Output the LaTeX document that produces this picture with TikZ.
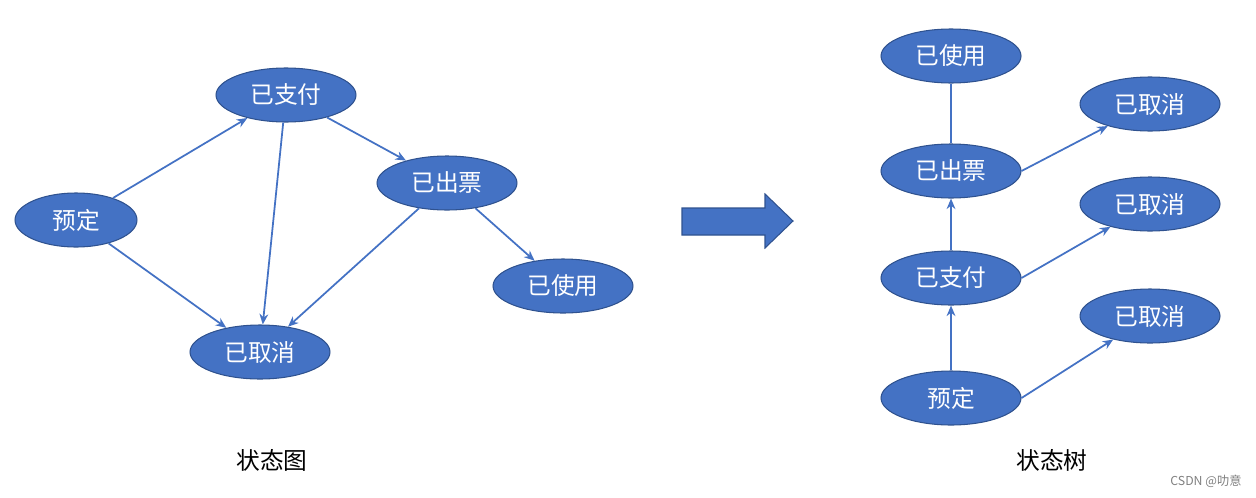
\documentclass[tikz,border=0pt]{standalone}
\usepackage{fontspec}
\newfontfamily\cjk{Noto Sans CJK SC}
\usetikzlibrary{shapes.geometric,arrows.meta}
\definecolor{fillb}{HTML}{4472C4}
\definecolor{edgeb}{HTML}{2F528F}
\begin{document}
\begin{tikzpicture}[x=0.02cm,y=-0.02cm,
  st/.style={ellipse,fill=fillb,draw=edgeb,line width=0.6pt,minimum width=2.8cm,minimum height=1.08cm,inner sep=0pt,text=white,font=\cjk\fontsize{13.5}{15}\selectfont},
  ar/.style={draw=fillb,line width=1pt,-{Stealth[length=6pt,width=5pt]}},
  ln/.style={draw=fillb,line width=1pt},
  lab/.style={font=\cjk\fontsize{13.5}{15}\selectfont}]
\useasboundingbox (0,0) rectangle (1256,497);
\node[st,minimum width=2.44cm] (a) at (76,220) {预定};
\node[st] (b) at (286,95) {已支付};
\node[st] (c) at (447,183) {已出票};
\node[st] (d) at (563,286) {已使用};
\node[st] (e) at (260,352) {已取消};
\draw[ar] (a) -- (b);
\draw[ar] (a) -- (e);
\draw[ar] (b) -- (e);
\draw[ar] (b) -- (c);
\draw[ar] (c) -- (e);
\draw[ar] (c) -- (d);
\node[st] (rd) at (951,56) {已使用};
\node[st] (rc) at (951,171) {已出票};
\node[st] (rb) at (951,278) {已支付};
\node[st] (ra) at (951,398) {预定};
\node[st] (x1) at (1150,104) {已取消};
\node[st] (x2) at (1150,204) {已取消};
\node[st] (x3) at (1150,316) {已取消};
\draw[ar] (ra) -- (rb);
\draw[ar] (rb) -- (rc);
\draw[ln] (rc) -- (rd);
\draw[ar] (rc.east) -- (x1);
\draw[ar] (rb.east) -- (x2);
\draw[ar] (ra.east) -- (x3);
\draw[fill=fillb,draw=edgeb,line width=0.6pt] (682,208) -- (765,208) -- (765,194) -- (793,221) -- (765,248) -- (765,235) -- (682,235) -- cycle;
\node[lab] (t1) at (272,460) {状态图};
\node[lab] (t2) at (1052,460) {状态树};
\node[font=\cjk\fontsize{7}{8}\selectfont,text=gray] (w) at (1206,481) {CSDN @叻意};
\end{tikzpicture}
\end{document}
